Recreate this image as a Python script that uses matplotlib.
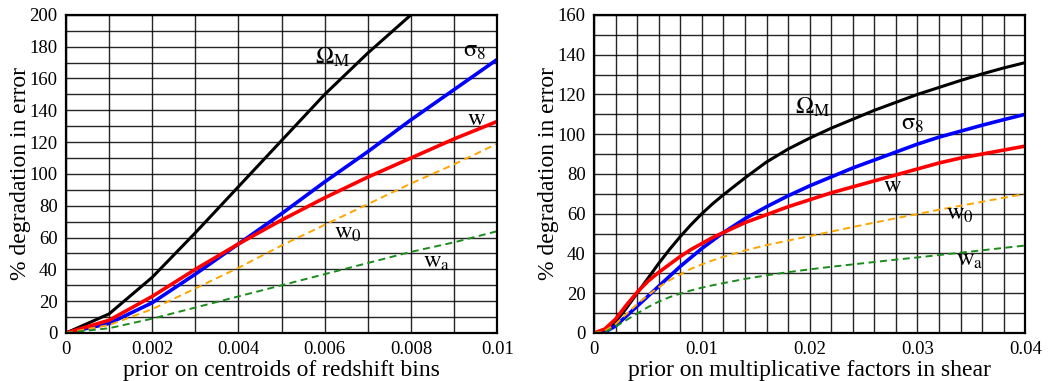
import numpy as np
import matplotlib
matplotlib.use('Agg')
from matplotlib import pyplot as plt

plt.rcParams['font.family'] = ['Liberation Serif', 'DejaVu Serif']
plt.rcParams['mathtext.fontset'] = 'stix'

# left panel: prior on centroids of redshift bins
z_prior = [0, 0.001, 0.002, 0.003, 0.004, 0.005, 0.006, 0.007, 0.008, 0.009, 0.01]
z_om = [0, 12, 35, 63, 92, 121, 150, 176, 200, 225, 250]
z_s8 = [0, 6, 19, 37, 56, 75, 95, 114, 134, 153, 172]
z_w = [0, 8, 23, 40, 56, 71, 85, 98, 110, 122, 133]
z_w0 = [0, 5, 15, 28, 41, 55, 68, 81, 94, 106, 119]
z_wa = [0, 3, 9, 16, 23, 30, 37, 44, 51, 57, 64]

# right panel: prior on multiplicative factors in shear
m_prior = [0, 0.001, 0.002, 0.003, 0.004, 0.005, 0.006, 0.007, 0.008, 0.009, 0.010,
           0.011, 0.012, 0.014, 0.016, 0.018, 0.020, 0.022, 0.024, 0.026, 0.028,
           0.030, 0.032, 0.034, 0.036, 0.038, 0.040]
m_om = [0, 1, 5.5, 12.5, 20, 27.5, 35, 42, 48.5, 54.5, 60,
        65, 69.5, 78, 86, 92.5, 98, 103, 107.5, 112, 116,
        120, 123.5, 127, 130.3, 133.3, 136]
m_s8 = [0, 0.5, 3.5, 8.5, 13.5, 18.5, 23.5, 28.5, 33.5, 38, 42.5,
        46.5, 50.5, 57.5, 63.5, 69, 74, 78.5, 83, 87, 91,
        95, 98.5, 101.5, 104.5, 107.3, 110]
m_w = [0, 2, 7, 14, 20.5, 26, 30.5, 34.5, 38.5, 42, 45,
       48, 50.5, 55.5, 59.5, 63.5, 67, 70.5, 73.5, 76.5, 79.5,
       82.5, 85.5, 88, 90, 92, 94]
m_w0 = [0, 1, 4.5, 9.5, 14.5, 19, 23, 26.5, 29.5, 32.3, 34.5,
        36.5, 38.3, 41.5, 44.2, 46.5, 48.7, 51, 53.3, 55.5, 57.7,
        59.8, 62, 64, 66, 68, 70]
m_wa = [0, 0.5, 3.2, 6.5, 9.8, 13, 15.8, 18, 19.8, 21.4, 22.8,
        24, 25.1, 27.2, 29, 30.6, 32, 33.3, 34.5, 35.7, 36.9,
        38, 39.2, 40.4, 41.6, 42.8, 44]

labels = [r'$\mathrm{\Omega_M}$', r'$\mathrm{\sigma_8}$', r'$\mathrm{w}$',
          r'$\mathrm{w_0}$', r'$\mathrm{w_a}$']
colors = ['black', '#0000ff', '#ff0000', '#ffa500', '#1a8c1a']
styles = ['-', '-', '-', '--', '--']
widths = [2.2, 2.6, 2.6, 1.4, 1.4]

z_label_pos = [(0.00578, 169), (0.0092, 174), (0.0093, 131), (0.00622, 59.5), (0.00828, 41)]
m_label_pos = [(0.0186, 110.5), (0.0285, 102), (0.0268, 71), (0.0326, 57), (0.0336, 34)]

fig = plt.figure(figsize=(10.57, 3.81), dpi=100)
ax1 = fig.add_axes([0.0624, 0.126, 0.408, 0.835])
ax2 = fig.add_axes([0.562, 0.126, 0.408, 0.835])


def setup(ax, x, series, xmax, xminor, xmajor, ymax, xlabel, pos):
    for y, c, ls, lw in zip(series, colors, styles, widths):
        line, = ax.plot(x, y, color=c, linestyle=ls, linewidth=lw)
        if ls == '--':
            line.set_dashes((3.6, 2.3))
    for lab, (tx, ty) in zip(labels, pos):
        ax.text(tx, ty, lab, fontsize=17.5, ha='left', va='baseline')
    ax.set_xlim(0, xmax)
    ax.set_ylim(0, ymax)
    ax.set_xticks(np.arange(0, xmax + 1e-9, xmajor))
    ax.set_xticks(np.arange(0, xmax + 1e-9, xminor), minor=True)
    ax.set_yticks(np.arange(0, ymax + 1, 20))
    ax.set_yticks(np.arange(0, ymax + 1, 10), minor=True)
    ax.grid(which='both', color='black', linewidth=1.0, alpha=0.85)
    ax.set_axisbelow(True)
    ax.tick_params(which='both', length=0, labelsize=13.5, pad=6)
    for s in ax.spines.values():
        s.set_linewidth(1.6)
    ax.set_xlabel(xlabel, fontsize=17, labelpad=1)
    ax.set_ylabel('% degradation in error', fontsize=17, labelpad=-1)
    ax.xaxis.set_major_formatter(plt.FuncFormatter(lambda v, p: '0' if v == 0 else ('%g' % round(v, 4))))


setup(ax1, z_prior, [z_om, z_s8, z_w, z_w0, z_wa], 0.01, 0.001, 0.002, 200,
      'prior on centroids of redshift bins', z_label_pos)
setup(ax2, m_prior, [m_om, m_s8, m_w, m_w0, m_wa], 0.04, 0.002, 0.01, 160,
      'prior on multiplicative factors in shear', m_label_pos)

fig.savefig('out.png', dpi=100)
